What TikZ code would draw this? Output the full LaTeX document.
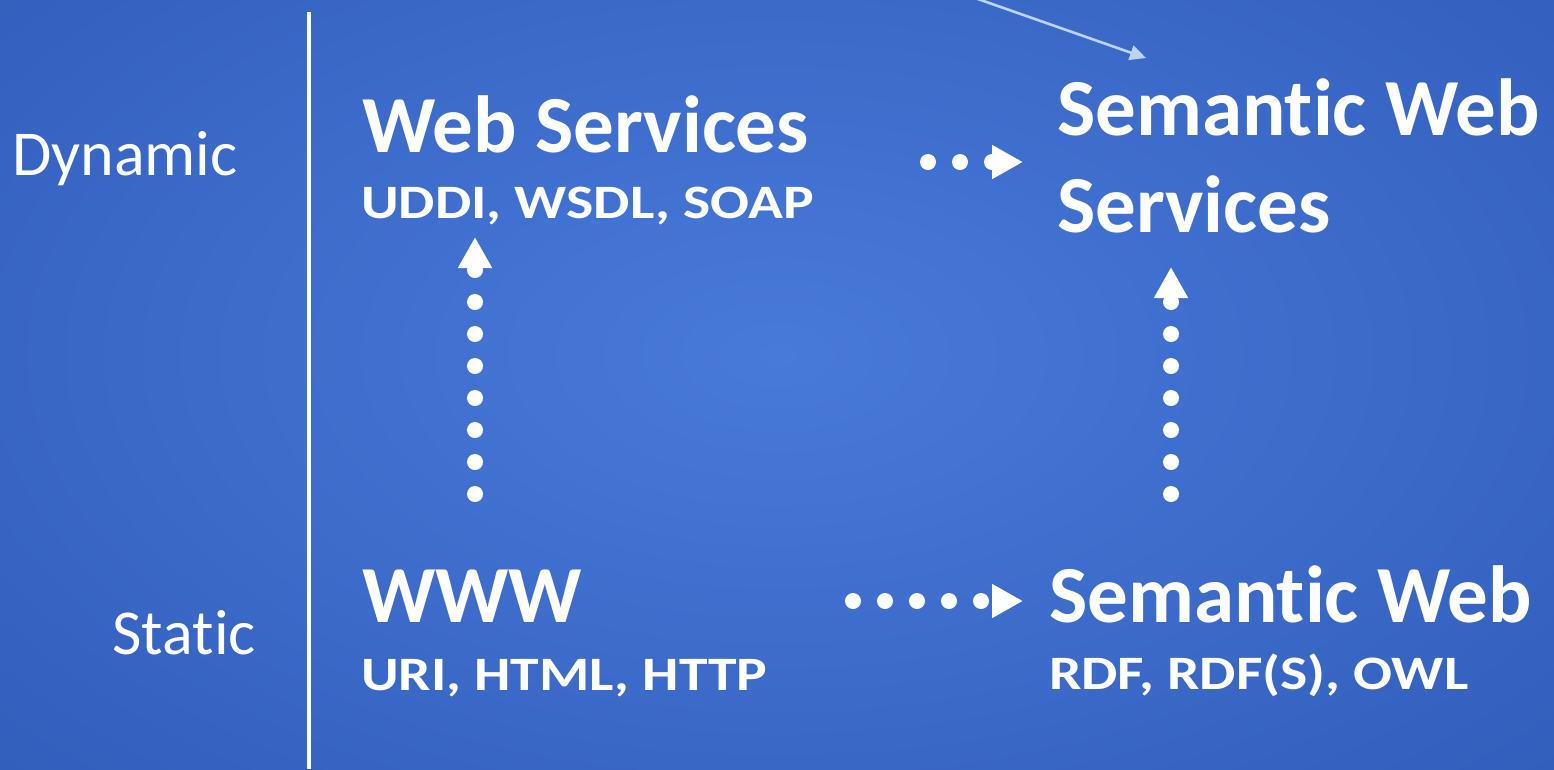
\documentclass[tikz,border=0pt]{standalone}
\usepackage{fontspec}
\setmainfont[Ligatures=NoCommon]{Carlito}
\newfontfamily\subfont[Ligatures=NoCommon, FakeStretch=1.2]{Carlito}
\usetikzlibrary{arrows.meta}
\definecolor{bgin}{RGB}{72,122,218}
\definecolor{bgout}{RGB}{50,94,188}
\definecolor{thinarrow}{RGB}{186,212,242}
\tikzset{
  head/.style={anchor=base west, inner sep=0pt, text=white, font=\bfseries\fontsize{81}{90}\selectfont},
  sub/.style={anchor=base west, inner sep=0pt, text=white, font=\subfont\bfseries\fontsize{48}{54}\selectfont},
  side/.style={inner sep=0pt, text=white, font=\fontsize{64}{72}\selectfont},
  dotarrow/.style={white, line width=16pt, line cap=round, dash pattern=on 0pt off 32pt,
    -{Triangle[width=32pt,length=31pt]}},
  pointer/.style={thinarrow, line width=2.6pt, -{Triangle[width=15pt,length=16pt]}}
}
\begin{document}
\begin{tikzpicture}[x=1pt,y=-1pt]
  \useasboundingbox (0,0) rectangle (1554,769);
  % background
  \shade[inner color=bgin, outer color=bgout] (-300,-250) rectangle (1854,960);
  \clip (0,0) rectangle (1554,769);

  % axis separator
  \draw[white, line width=3.5pt] (309,12) -- (309,769);

  % axis labels
  \node[side, anchor=base west] (dyn) at (12,175) {Dynamic};
  \node[side, anchor=base east] (sta) at (256,654) {Static};

  % quadrants
  \node[head] (ws) at (362,152) {Web Services};
  \node[sub]  (wsstd) at (361,218) {UDDI, WSDL, SOAP};

  \node[head] (sws1) at (1057,135) {Semantic Web};
  \node[head] (sws2) at (1057,232) {Services};

  \node[head] (www) at (362,622) {WWW};
  \node[sub]  (wwwstd) at (361,690) {URI, HTML, HTTP};

  \node[head] (sw) at (1049,622) {Semantic Web};
  \node[sub]  (swstd) at (1049,689) {RDF, RDF(S), OWL};

  % connector end points
  \coordinate (wwwR)  at (853,601);
  \coordinate (swL)   at (1023,601);
  \coordinate (wsR)   at (928,162);
  \coordinate (swsL)  at (1023,162);
  \coordinate (wwwT)  at (475,494);
  \coordinate (wsB)   at (475,237);
  \coordinate (swT)   at (1171,494);
  \coordinate (swsB)  at (1171,267);
  \coordinate (src)   at (975,-2);
  \coordinate (swsTop) at (1146,58);

  % evolution arrows
  \draw[dotarrow] (wwwR) -- (swL);
  \draw[dotarrow] (wsR) -- (swsL);
  \draw[dotarrow] (wwwT) -- (wsB);
  \draw[dotarrow] (swT) -- (swsB);
  \draw[pointer] (src) -- (swsTop);
\end{tikzpicture}
\end{document}
